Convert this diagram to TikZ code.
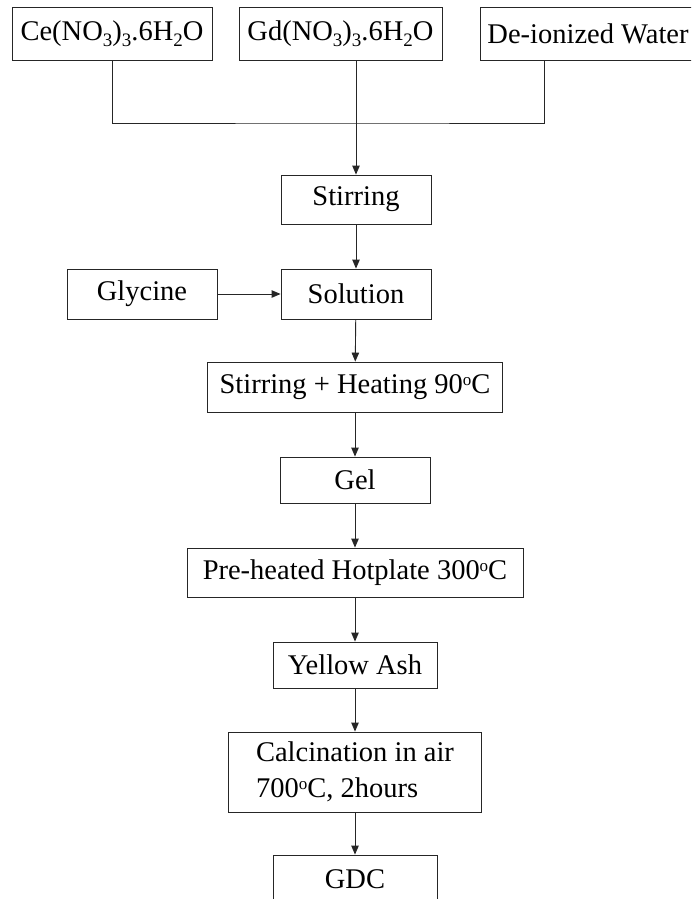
\documentclass[tikz,border=0pt]{standalone}
\usepackage{fontspec}
\setmainfont{Liberation Serif}
\usetikzlibrary{arrows.meta}
\newcommand{\mysub}[1]{\raisebox{-6.5pt}{\fontsize{19}{19}\selectfont #1}}
\newcommand{\mysup}[1]{\raisebox{8pt}{\fontsize{17}{17}\selectfont #1}}
\begin{document}
\begin{tikzpicture}[x=1pt,y=-1pt,
  box/.style={draw=black!85, line width=0.9pt, inner sep=0pt, font=\fontsize{28.5}{36}\selectfont},
  flow/.style={draw=black!85, line width=0.9pt, -{Triangle[length=9pt,width=7.5pt]}},
  link/.style={draw=black!85, line width=0.9pt}]
\useasboundingbox (0,0) rectangle (691,899);
\clip (0,0) rectangle (691,899);
\fill[white] (0,0) rectangle (691,899);
\node[box, minimum width=200pt, minimum height=53pt] (ce) at (112,33.5) {Ce(NO\mysub{3})\mysub{3}.6H\mysub{2}O};
\node[box, minimum width=203pt, minimum height=53pt] (gd) at (340.5,33.5) {Gd(NO\mysub{3})\mysub{3}.6H\mysub{2}O};
\node[box, minimum width=216pt, minimum height=53pt] (water) at (588,33.5) {De-ionized Water};
\node[box, minimum width=150pt, minimum height=49pt] (stir) at (356,199.5) {Stirring};
\node[box, minimum width=150pt, minimum height=50pt] (sol) at (356,294) {Solution};
\node[box, minimum width=150pt, minimum height=50pt] (gly) at (142,294) {Glycine};
\node[box, minimum width=295pt, minimum height=50pt] (heat) at (355,387) {Stirring + Heating 90\mysup{o}C};
\node[box, minimum width=150pt, minimum height=46pt] (gel) at (355,480) {Gel};
\node[box, minimum width=336pt, minimum height=49pt] (hot) at (355,572.5) {Pre-heated Hotplate 300\mysup{o}C};
\node[box, minimum width=164pt, minimum height=46pt] (ash) at (355,665) {Yellow Ash};
\node[box, minimum width=253pt, minimum height=80pt, align=left] (calc) at (355,772) {Calcination in air\\700\mysup{o}C, 2hours};
\node[box, minimum width=164pt, minimum height=48pt] (gdc) at (355,879) {GDC};
\coordinate (j) at (356,123);
\coordinate (wdrop) at (544,60);
\draw[link] (ce.south) |- (j) -| (wdrop);
\draw[flow] (gd.south -| stir.north) -- (stir.north);
\draw[flow] (stir) -- (sol);
\draw[flow] (gly) -- (sol);
\draw[flow] (sol) -- (heat);
\draw[flow] (heat) -- (gel);
\draw[flow] (gel) -- (hot);
\draw[flow] (hot) -- (ash);
\draw[flow] (ash) -- (calc);
\draw[flow] (calc) -- (gdc);
\end{tikzpicture}
\end{document}
